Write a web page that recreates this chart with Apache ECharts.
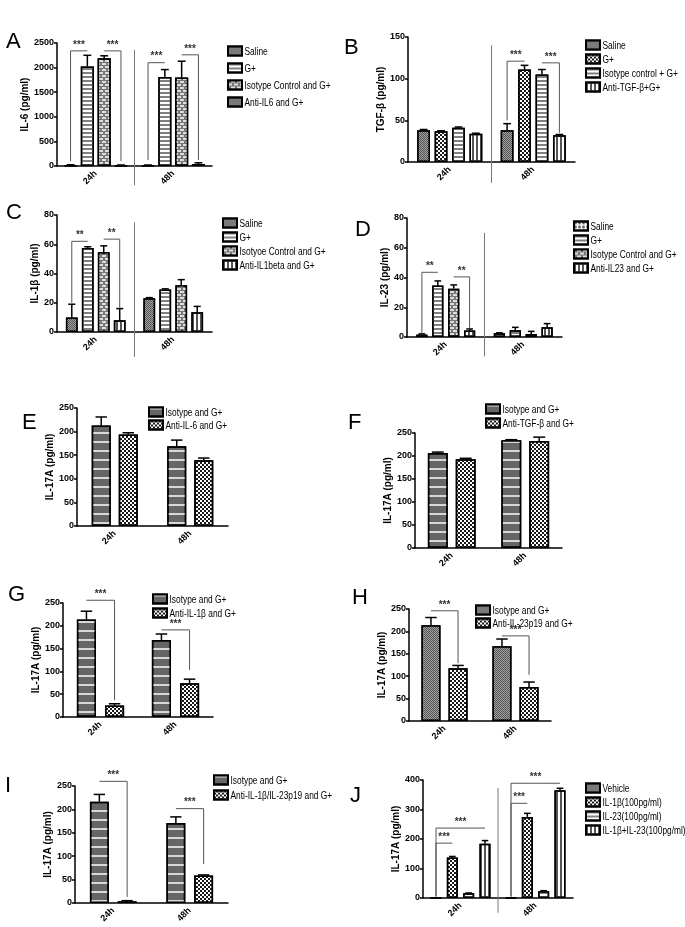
<!DOCTYPE html>
<html><head><meta charset="utf-8">
<script src="https://cdn.jsdelivr.net/npm/echarts@6/dist/echarts.min.js"></script>
<style>html,body{margin:0;padding:0;background:#fff}#c{width:685px;height:927px}</style>
</head><body><div id="c"></div>
<script>
// ---------- DATA ----------
const categories = ['24h', '48h'];

// A: IL-6
const aNames = ['Saline', 'G+', 'Isotype Control and G+', 'Anti-IL6 and G+'];
const aMeans = [[15, 15], [2020, 1810], [2190, 1800], [15, 40]];
const aErrs  = [[10, 5], [230, 150], [50, 330], [5, 25]];
const aTicks = [0, 2500, 500];
const aSig = [[0, 2340, 0, 1, 0, 100, '***'], [0, 2340, 2, 3, 3, 100, '***'], [1, 2100, 0, 1, 0, 120, '***'], [1, 2260, 2, 3, 3, 120, '***']];

// B: TGF-beta
const bNames = ['Saline', 'G+', 'Isotype control + G+', 'Anti-TGF-β+G+'];
const bMeans = [[38, 38], [37, 111], [41, 105], [34, 32]];
const bErrs  = [[1, 8], [0.5, 5], [1, 6], [0.5, 1]];
const bTicks = [0, 150, 50];
const bSig = [[1, 121, 0, 1, 0, 50, '***'], [1, 119, 2, 3, 3, 35, '***']];

// C: IL-1beta
const cNames = ['Saline', 'G+', 'Isotyoe Control and G+', 'Anti-IL1beta and G+'];
const cMeans = [[10, 23], [57.5, 29], [54.5, 32], [8, 13.5]];
const cErrs  = [[9, 0.5], [0.8, 0.5], [4.4, 3.8], [8, 4]];
const cTicks = [0, 80, 20];
const cSig = [[0, 62, 0, 1, 0, 20, '**'], [0, 63.5, 2, 3, 3, 16.5, '**']];

// D: IL-23
const dNames = ['Saline', 'G+', 'Isotype Control and G+', 'Anti-IL23 and G+'];
const dMeans = [[1.6, 2.5], [34.7, 4.5], [32.5, 2], [4.3, 6.5]];
const dErrs  = [[0.5, 0.3], [3, 2], [2.5, 1.8], [1.1, 2.5]];
const dTicks = [0, 80, 20];
const dSig = [[0, 43.5, 0, 1, 0, 2.5, '**'], [0, 40.4, 2, 3, 3, 6, '**']];

// E
const eNames = ['Isotype and G+', 'Anti-IL-6 and G+'];
const eMeans = [[213, 169], [194, 139.5]];
const eErrs  = [[18, 13], [3.5, 4.5]];
// F
const fNames = ['Isotype and G+', 'Anti-TGF-β and G+'];
const fMeans = [[206.5, 234], [193, 232.5]];
const fErrs  = [[2, 1.5], [2, 8.5]];
// G
const gNames = ['Isotype and G+', 'Anti-IL-1β and G+'];
const gMeans = [[214, 169], [25, 74]];
const gErrs  = [[18, 13], [4, 9]];
const gSig = [[0, 256, 0, 1, 1, 37, '***'], [1, 191, 0, 1, 1, 103, '***']];
// H
const hNames = ['Isotype and G+', 'Anti-IL-23p19 and G+'];
const hMeans = [[214, 167], [118, 76]];
const hErrs  = [[17, 16], [6, 11]];
const hSig = [[0, 246, 0, 1, 1, 129, '***'], [1, 190, 0, 1, 1, 103, '***']];
// I
const iNames = ['Isotype and G+', 'Anti-IL-1β/IL-23p19 and G+'];
const iMeans = [[216.5, 171], [3.6, 59]];
const iErrs  = [[15.5, 13], [1.4, 1]];
const iSig = [[0, 260, 0, 1, 1, 13, '***'], [1, 201.6, 0, 1, 1, 83, '***']];
const il17Ticks = [0, 250, 50];

// J
const jNames = ['Vehicle', 'IL-1β(100pg/ml)', 'IL-23(100pg/ml)', 'IL-1β+IL-23(100pg/ml)'];
const jMeans = [[0.5, 0.5], [137.5, 275], [15.8, 22.5], [183.7, 365]];
const jErrs  = [[0, 0], [3.3, 12], [1.2, 2.3], [11, 7]];
const jTicks = [0, 400, 100];
const jSig = [[0, 186, 0, 1, 0, 5, '***'], [0, 237, 0, 3, 0, 5, '***'], [1, 321, 0, 1, 0, 5, '***'], [1, 389, 0, 3, 0, 5, '***']];

// ---------- STYLE ----------
const FONT = "'Liberation Sans', Arial, sans-serif";
const PAT = {
  darkCheck: {color: '#555555', decal: {symbol: 'rect', symbolSize: 1, color: '#a0a0a0', dashArrayX: [[1, 1], [0, 1, 1, 0]], dashArrayY: [1, 0]}},
  isoLines: {color: '#666666', decal: {symbol: 'rect', symbolSize: 1, color: '#d8d8d8', dashArrayX: [1, 0], dashArrayY: [1.5, 6.5]}},
  hStripe: {color: '#ffffff', decal: {symbol: 'rect', symbolSize: 1, color: '#808080', dashArrayX: [1, 0], dashArrayY: [2, 2]}},
  vStripe: {color: '#ffffff', decal: {symbol: 'rect', symbolSize: 1, color: '#555555', dashArrayX: [2, 2], dashArrayY: [1, 0]}},
  brick: {color: '#777777', decal: {symbol: 'rect', symbolSize: 1, color: '#dddddd', dashArrayX: [[4, 2], [1, 2, 3, 0]], dashArrayY: [2, 1]}},
  bwCheck: {color: '#ffffff', decal: {symbol: 'rect', symbolSize: 1, color: '#1a1a1a', dashArrayX: [[2, 2], [0, 2, 2, 0]], dashArrayY: [2, 0]}},
  fineCheck: {color: '#a8a8a8', decal: {symbol: 'rect', symbolSize: 1, color: '#4a4a4a', dashArrayX: [[1, 1], [0, 1, 1, 0]], dashArrayY: [1, 0]}},
  circles: {color: '#ffffff', decal: {symbol: 'circle', symbolSize: 0.9, color: '#404040', dashArrayX: [3, 0.5], dashArrayY: [3, 0.5]}}
};

const panels = [
  {key: 'A', names: aNames, means: aMeans, errs: aErrs, ticks: aTicks, sig: aSig, yName: 'IL-6 (pg/ml)', nameGap: 20,
   pats: ['darkCheck', 'hStripe', 'brick', 'fineCheck'], grid: [57, 43, 155, 123], legend: [227, 45, 5], letter: [6, 31],
   gap: [0.18, 0.28], divider: [2360, -390]},
  {key: 'B', names: bNames, means: bMeans, errs: bErrs, ticks: bTicks, sig: bSig, yName: 'TGF-β (pg/ml)', nameGap: 20,
   pats: ['darkCheck', 'bwCheck', 'hStripe', 'vStripe'], grid: [408, 37, 167, 125], legend: [585, 39, 2], letter: [344, 37],
   gap: [0.22, 0.36], divider: [140, -25]},
  {key: 'C', names: cNames, means: cMeans, errs: cErrs, ticks: cTicks, sig: cSig, yName: 'IL-1β (pg/ml)', nameGap: 11,
   pats: ['darkCheck', 'hStripe', 'brick', 'vStripe'], grid: [57, 215, 155, 117], legend: [222, 217, 2], letter: [6, 202],
   gap: [0.23, 0.36], divider: [75, -17]},
  {key: 'D', names: dNames, means: dMeans, errs: dErrs, ticks: dTicks, sig: dSig, yName: 'IL-23 (pg/ml)', nameGap: 13,
   pats: ['circles', 'hStripe', 'brick', 'vStripe'], grid: [407, 218, 155, 119], legend: [573, 220, 2], letter: [355, 219],
   gap: [0.24, 0.42], divider: [70, -13]},
  {key: 'E', names: eNames, means: eMeans, errs: eErrs, ticks: il17Ticks, sig: [], yName: 'IL-17A (pg/ml)', nameGap: 19,
   pats: ['isoLines', 'bwCheck'], grid: [77, 408, 151, 118], legend: [148, 406, 1], letter: [22, 412], gap: [0.39, 0.42]},
  {key: 'F', names: fNames, means: fMeans, errs: fErrs, ticks: il17Ticks, sig: [], yName: 'IL-17A (pg/ml)', nameGap: 22,
   pats: ['isoLines', 'bwCheck'], grid: [415, 433, 147, 115], legend: [485, 403, 2], letter: [348, 412], gap: [0.35, 0.4]},
  {key: 'G', names: gNames, means: gMeans, errs: gErrs, ticks: il17Ticks, sig: gSig, yName: 'IL-17A (pg/ml)', nameGap: 19,
   pats: ['isoLines', 'bwCheck'], grid: [63, 603, 150, 114], legend: [152, 593, 2], letter: [8, 584], gap: [0.37, 0.47]},
  {key: 'H', names: hNames, means: hMeans, errs: hErrs, ticks: il17Ticks, sig: hSig, yName: 'IL-17A (pg/ml)', nameGap: 15,
   pats: ['darkCheck', 'bwCheck'], grid: [409, 609, 142, 112], legend: [475, 604, 1], letter: [352, 587], gap: [0.35, 0.42]},
  {key: 'I', names: iNames, means: iMeans, errs: iErrs, ticks: il17Ticks, sig: iSig, yName: 'IL-17A (pg/ml)', nameGap: 17,
   pats: ['isoLines', 'bwCheck'], grid: [75, 786, 153, 117], legend: [213, 774, 3], letter: [5, 775], gap: [0.39, 0.47]},
  {key: 'J', names: jNames, means: jMeans, errs: jErrs, ticks: jTicks, sig: jSig, yName: 'IL-17A (pg/ml)', nameGap: 18,
   pats: ['darkCheck', 'bwCheck', 'hStripe', 'vStripe'], grid: [423, 780, 150, 118], legend: [585, 782, 2], letter: [350, 785],
   gap: [0.2, 0.48], divider: [373, -50]}
];

// ---------- BUILD ----------
const grids = [], xAxes = [], yAxes = [], series = [], legends = [], titles = [], graphics = [];
const ROW_H = 12, ICON_W = 14, TEXT_SCALE = 0.76;

function barCenter(api, cat, s, n, catGap, barGap, val) {
  const pt = api.coord([cat, val]);
  const band = api.size([1, 0])[0];
  const w = band * (1 - catGap) / (n + (n - 1) * barGap);
  const total = n * w + (n - 1) * barGap * w;
  return {x: pt[0] - total / 2 + w / 2 + s * w * (1 + barGap), y: pt[1], w: w};
}

panels.forEach((p, idx) => {
  const n = p.names.length;
  const catGap = p.gap[0], barGap = p.gap[1];
  grids.push({left: p.grid[0], top: p.grid[1], width: p.grid[2], height: p.grid[3]});
  xAxes.push({
    type: 'category', gridIndex: idx, data: categories,
    axisLine: {lineStyle: {color: '#000', width: 1.5}},
    axisTick: {alignWithLabel: true, length: 4, lineStyle: {color: '#000', width: 1.5}},
    axisLabel: {rotate: 45, fontSize: 9, fontWeight: 'bold', color: '#000', margin: 6, fontFamily: FONT}
  });
  yAxes.push({
    type: 'value', gridIndex: idx, min: p.ticks[0], max: p.ticks[1], interval: p.ticks[2],
    name: p.yName, nameLocation: 'middle', nameGap: p.nameGap,
    nameTextStyle: {fontSize: 10, fontWeight: 'bold', color: '#000', fontFamily: FONT},
    axisLine: {show: true, lineStyle: {color: '#000', width: 1.5}},
    axisTick: {show: true, length: 3, lineStyle: {color: '#000', width: 1.5}},
    axisLabel: {fontSize: 9, fontWeight: 'bold', color: '#000', margin: 3, fontFamily: FONT, formatter: v => String(v)},
    splitLine: {show: false}
  });
  p.names.forEach((nm, i) => {
    series.push({
      type: 'bar', name: p.key + '|' + nm, xAxisIndex: idx, yAxisIndex: idx,
      data: p.means[i], barGap: (barGap * 100) + '%', barCategoryGap: (catGap * 100) + '%',
      itemStyle: Object.assign({borderColor: '#000', borderWidth: 1.5}, PAT[p.pats[i]]),
      emphasis: {disabled: true}, silent: true
    });
  });
  // error bars
  const errData = [];
  p.means.forEach((arr, s) => arr.forEach((m, c) => {
    if (p.errs[s][c] > 0) errData.push([c, m + p.errs[s][c], s, m]);
  }));
  series.push({
    type: 'custom', xAxisIndex: idx, yAxisIndex: idx, silent: true, clip: false, z: 5,
    data: errData, encode: {x: 0, y: 1},
    renderItem: (params, api) => {
      const cat = api.value(0), top = api.value(1), s = api.value(2), mean = api.value(3);
      const b = barCenter(api, cat, s, n, catGap, barGap, mean);
      const yTop = api.coord([cat, top])[1];
      const cw = b.w * 0.3;
      return {type: 'group', children: [
        {type: 'line', shape: {x1: b.x, y1: b.y, x2: b.x, y2: yTop}, style: {stroke: '#000', lineWidth: 1.5}},
        {type: 'line', shape: {x1: b.x - cw, y1: yTop, x2: b.x + cw, y2: yTop}, style: {stroke: '#000', lineWidth: 1.5}}
      ]};
    }
  });
  // significance brackets
  if (p.sig.length) {
    series.push({
      type: 'custom', xAxisIndex: idx, yAxisIndex: idx, silent: true, clip: false, z: 6,
      data: p.sig.map(r => [r[0], r[1], r[2], r[3], r[4], r[5]]), encode: {x: 0, y: 1},
      renderItem: (params, api) => {
        const cat = api.value(0), yv = api.value(1), sf = api.value(2), st = api.value(3), sl = api.value(4), lt = api.value(5);
        const a = barCenter(api, cat, sf, n, catGap, barGap, yv);
        const b = barCenter(api, cat, st, n, catGap, barGap, yv);
        const l = barCenter(api, cat, sl, n, catGap, barGap, lt);
        const label = p.sig[params.dataIndex][6];
        return {type: 'group', children: [
          {type: 'line', shape: {x1: a.x, y1: a.y, x2: b.x, y2: a.y}, style: {stroke: '#555', lineWidth: 1}},
          {type: 'line', shape: {x1: l.x, y1: a.y, x2: l.x, y2: l.y}, style: {stroke: '#555', lineWidth: 1}},
          {type: 'text', x: (a.x + b.x) / 2, y: a.y - 1, style: {text: label, textAlign: 'center', textVerticalAlign: 'bottom', verticalAlign: 'bottom', font: 'bold 10px ' + FONT, fill: '#333'}}
        ]};
      }
    });
  }
  // group divider
  if (p.divider) {
    series.push({
      type: 'custom', xAxisIndex: idx, yAxisIndex: idx, silent: true, clip: false, z: 1,
      data: [[0, p.divider[0], p.divider[1]]], encode: {x: 0, y: 1},
      renderItem: (params, api) => {
        const p0 = api.coord([0, api.value(1)]);
        const p1 = api.coord([1, api.value(2)]);
        const x = (p0[0] + p1[0]) / 2;
        return {type: 'line', shape: {x1: x, y1: p0[1], x2: x, y2: p1[1]}, style: {stroke: '#777', lineWidth: 1}};
      }
    });
  }
  // legend swatches (library legend) + condensed legend labels
  legends.push({
    data: p.names.map(nm => p.key + '|' + nm), left: p.legend[0], top: p.legend[1], orient: 'vertical',
    itemWidth: ICON_W, itemHeight: 9, itemGap: p.legend[2], icon: 'rect', padding: 0, selectedMode: false,
    formatter: () => ' ',
    textStyle: {fontSize: 11, fontFamily: FONT, color: '#000', lineHeight: ROW_H, height: ROW_H}
  });
  p.names.forEach((nm, i) => {
    graphics.push({
      type: 'text', silent: true,
      x: p.legend[0] + ICON_W + 3.5, y: p.legend[1] + i * (ROW_H + p.legend[2]) + ROW_H / 2 + 0.5,
      scaleX: TEXT_SCALE,
      style: {text: nm, font: '11px ' + FONT, fill: '#000', textAlign: 'left', textVerticalAlign: 'middle', verticalAlign: 'middle'}
    });
  });
  titles.push({text: p.key, left: p.letter[0], top: p.letter[1], padding: 0,
    textStyle: {fontSize: 22, fontWeight: 'normal', color: '#000', fontFamily: FONT}});
});

const chart = echarts.init(document.getElementById('c'), null, {renderer: 'canvas'});
chart.setOption({
  animation: false,
  backgroundColor: '#fff',
  title: titles,
  grid: grids,
  xAxis: xAxes,
  yAxis: yAxes,
  legend: legends,
  graphic: graphics,
  series: series
});
</script>
</body></html>
